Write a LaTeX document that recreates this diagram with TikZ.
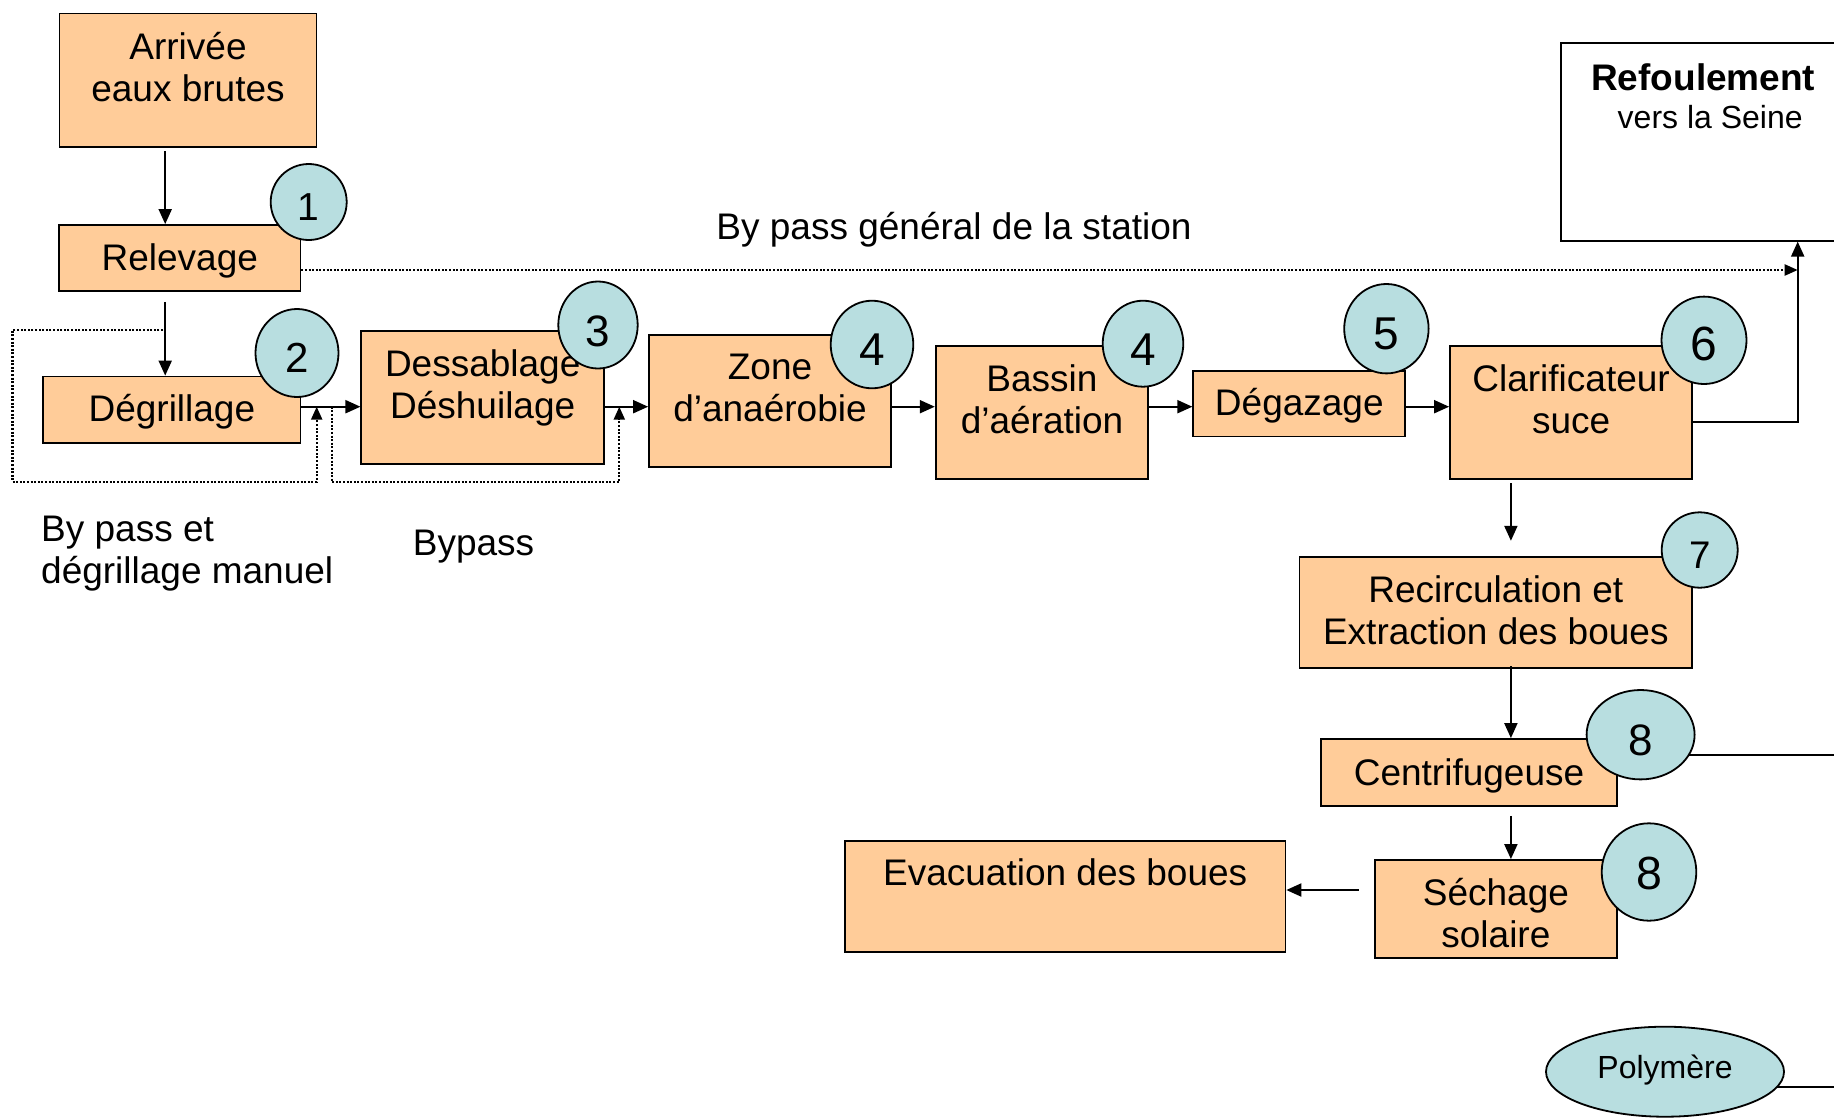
\documentclass[tikz,border=0pt]{standalone}
\usepackage{fontspec}
\setmainfont{Liberation Sans}
\usetikzlibrary{arrows.meta,shapes.geometric}

\definecolor{peach}{HTML}{FFCC99}
\definecolor{aqua}{HTML}{B8DEE0}
\pgfdeclarelayer{bg}
\pgfsetlayers{bg,main}

% main text size
\newcommand\mainfnt{\fontsize{37}{42}\selectfont}
% fix the space above the first baseline (#1) and below the last one (#2)
\newcommand\boxtext[3]{\rule{0pt}{#1pt}#3\rule[-#2pt]{0pt}{#2pt}}
\newcommand\numfnt[1]{\fontsize{#1}{#1}\selectfont}

\tikzset{
  stage/.style={draw, line width=1.8pt, fill=peach, inner sep=0pt,
                align=center, font=\mainfnt},
  badge/.style={ellipse, draw, line width=1.8pt, fill=aqua, inner sep=0pt},
  flow/.style={line width=2pt, -{Triangle[length=15pt,width=13pt]}},
  bypass/.style={line width=2.2pt, dash pattern=on 2pt off 1.6pt,
                 -{Triangle[length=13pt,width=11pt]}},
  plain/.style={line width=2pt},
}

\begin{document}
\begin{tikzpicture}[x=1pt,y=-1pt]
\useasboundingbox (0,0) rectangle (1834,1117);
\clip (0,0) rectangle (1834,1117);

% ---- process stages ----
\node[stage, minimum width=257.1pt] (arrivee) at (188,80)
  {\boxtext{45.9}{45.3}{Arrivée\\eaux brutes}};
\node[stage, minimum width=241.5pt] (relevage) at (179.8,258)
  {\boxtext{45}{21}{Relevage}};
\node[stage, minimum width=257.2pt] (degrillage) at (171.9,409.75)
  {\boxtext{44.5}{22}{Dégrillage}};
\node[stage, minimum width=242.7pt] (dessablage) at (482.7,397.65)
  {\boxtext{45.4}{45.3}{Dessablage\\Déshuilage}};
\node[stage, minimum width=242pt] (zone) at (770,401)
  {\boxtext{44}{46}{Zone\\d’anaérobie}};
\node[stage, minimum width=212.6pt] (bassin) at (1042,412.5)
  {\boxtext{46}{45.6}{Bassin\\d’aération}};
\node[stage, minimum width=212.1pt] (degazage) at (1299.3,403.6)
  {\boxtext{44.3}{21.5}{Dégazage}};
\node[stage, minimum width=242.2pt] (clarif) at (1571.1,412.65)
  {\boxtext{45.7}{45.6}{Clarificateur\\suce}};
\node[stage, minimum width=392.8pt] (recirc) at (1495.8,612.8)
  {\boxtext{45.4}{23.6}{Recirculation et\\Extraction des boues}};
\node[stage, minimum width=296pt] (centrif) at (1469,772.35)
  {\boxtext{46}{20.7}{Centrifugeuse}};
\node[stage, minimum width=242.2pt] (sechage) at (1495.9,908.85)
  {\boxtext{45}{10.7}{Séchage\\solaire}};
\node[stage, minimum width=440.5pt] (evac) at (1065.2,896.35)
  {\boxtext{44.3}{67}{Evacuation des boues}};
\node[stage, fill=white, minimum width=283.8pt,
      font=\fontsize{37}{38.3}\selectfont] (refoul) at (1703.2,142)
  {\boxtext{46.7}{112.4}{{\bfseries Refoulement}\\{\fontsize{32}{38.3}\selectfont\kern14pt vers la Seine}}};

% ---- numbered badges ----
\node[badge, minimum width=76pt, minimum height=76pt,
      label={[font=\numfnt{39}, yshift=-5pt]center:1}] (c1) at (308.7,202) {};
\node[badge, minimum width=83pt, minimum height=88pt,
      label={[font=\numfnt{42}, yshift=-5pt]center:2}] (c2) at (297,353) {};
\node[badge, minimum width=79.4pt, minimum height=87pt,
      label={[font=\numfnt{44}, yshift=-6pt]center:3}] (c3) at (598,325) {};
\node[badge, minimum width=82.6pt, minimum height=87.6pt,
      label={[font=\numfnt{46}, yshift=-5pt]center:4}] (c4a) at (872,344.5) {};
\node[badge, minimum width=80.6pt, minimum height=86pt,
      label={[font=\numfnt{46}, yshift=-6pt]center:4}] (c4b) at (1143,343.7) {};
\node[badge, minimum width=84.4pt, minimum height=89.4pt,
      label={[font=\numfnt{46}, yshift=-5pt]center:5}] (c5) at (1386.4,328.7) {};
\node[badge, minimum width=85pt, minimum height=87.4pt,
      label={[font=\numfnt{48}, yshift=-4pt]center:6}] (c6) at (1704,340.3) {};
\node[badge, minimum width=76pt, minimum height=75.4pt,
      label={[font=\numfnt{38.5}, yshift=-5.5pt]center:7}] (c7) at (1699.7,550) {};
\node[badge, minimum width=108pt, minimum height=89.4pt,
      label={[font=\numfnt{44}, yshift=-6pt]center:8}] (c8a) at (1640.6,734.7) {};
\node[badge, minimum width=94.6pt, minimum height=97.4pt,
      label={[font=\numfnt{46.5}, yshift=-1pt]center:8}] (c8b) at (1649,872) {};

\node[badge, minimum width=238pt, minimum height=90pt,
      font=\fontsize{32}{32}\selectfont, text height=20.2pt, text depth=7pt]
  (poly) at (1665,1071.7) {Polymère};

% ---- free labels ----
\node[font=\mainfnt, anchor=base] (bpgen) at (954,239.5)
  {By pass général de la station};
\node[font=\mainfnt, anchor=north west, inner sep=0pt, align=left] (bpman)
  at (41,511) {\rule{0pt}{30pt}By pass et\\dégrillage manuel};
\node[font=\mainfnt, anchor=base west, inner sep=0pt] (bpdes) at (412.7,555) {Bypass};

% ---- routing coordinates ----
\coordinate (colA) at (165.2,0);
\coordinate (colB) at (1510.9,0);
\coordinate (outX) at (1797.7,0);
\coordinate (row) at (0,406.7);
\coordinate (gby) at (0,270);
\coordinate (cr) at (0,421.7);
\coordinate (ev) at (0,890);
\coordinate (tap) at (163,330);
\coordinate (l1a) at (12.5,0);
\coordinate (l1b) at (316.7,0);
\coordinate (l2a) at (331.7,0);
\coordinate (l2b) at (619.3,0);
\coordinate (lbot) at (0,481.8);
\coordinate (cl) at (1834,755);
\coordinate (pl) at (1834,1087.3);

% ---- connectors ----
\draw[flow, shorten <=3.8pt] (arrivee.south -| colA) -- (relevage.north -| colA);
\draw[flow, shorten <=10pt] (relevage.south -| colA) -- (degrillage.north -| colA);

\draw[flow] (degrillage.east |- row) -- (dessablage.west |- row);
\draw[flow] (dessablage.east |- row) -- (zone.west |- row);
\draw[flow] (zone.east |- row) -- (bassin.west |- row);
\draw[flow] (bassin.east |- row) -- (degazage.west |- row);
\draw[flow] (degazage.east |- row) -- (clarif.west |- row);

\draw[flow] (clarif.east |- cr) -- (cr -| outX) -- (refoul.south -| outX);
\draw[bypass] (relevage.east |- gby) -- (gby -| outX);

\draw[bypass] (tap) -| (l1a |- lbot) -| (l1b |- row);
\draw[bypass] (l2a |- row) -- (l2a |- lbot) -- (l2b |- lbot) -- (l2b |- row);

\draw[flow, shorten <=3pt, shorten >=15.6pt] (clarif.south -| colB) -- (recirc.north -| colB);
\draw[flow, shorten <=-3pt] (recirc.south -| colB) -- (centrif.north -| colB);
\draw[flow, shorten <=9.3pt] (centrif.south -| colB) -- (sechage.north -| colB);
\draw[flow, shorten <=15.3pt] (sechage.west |- ev) -- (evac.east |- ev);

\begin{pgfonlayer}{bg}
  \draw[plain] (c8a.center |- cl) -- (cl);
  \draw[plain] (poly.center |- pl) -- (pl);
\end{pgfonlayer}
\end{tikzpicture}
\end{document}
